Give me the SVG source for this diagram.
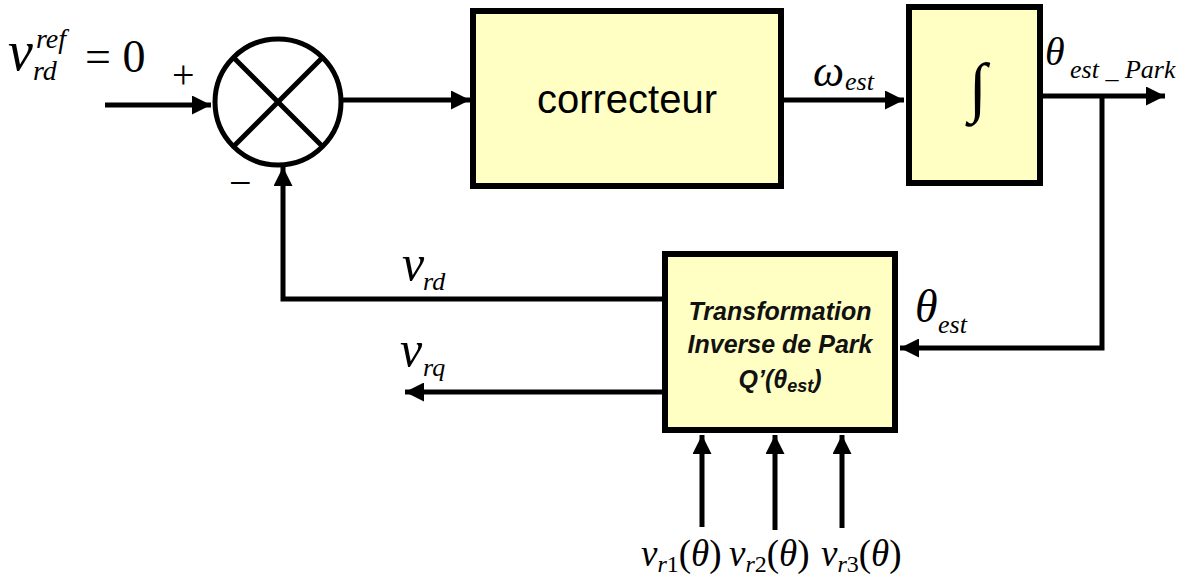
<svg xmlns="http://www.w3.org/2000/svg" width="1187" height="581" viewBox="0 0 1187 581">
<defs>
<marker id="ah" viewBox="0 0 10 10" refX="10" refY="5" markerWidth="4" markerHeight="3.8" markerUnits="strokeWidth" orient="auto">
<path d="M0,0 L10,5 L0,10 z" fill="#000"/>
</marker>
</defs>
<style>
.box{fill:#FFFFC4;stroke:#000;stroke-width:6}
.ln{fill:none;stroke:#000;stroke-width:5}
.m{font-family:"Liberation Serif",serif;font-style:italic;fill:#000}
.r{font-family:"Liberation Serif",serif;font-style:normal;fill:#000}
.b{font-family:"Liberation Sans",sans-serif;font-weight:bold;font-style:italic;font-size:25px;fill:#111;text-anchor:middle}
</style>
<rect width="1187" height="581" fill="#fff"/>
<g id="connectors">
<line class="ln" x1="105" y1="105" x2="211" y2="105" marker-end="url(#ah)"/>
<line class="ln" x1="343" y1="100" x2="470" y2="100" marker-end="url(#ah)"/>
<line class="ln" x1="782" y1="100" x2="904" y2="100" marker-end="url(#ah)"/>
<line class="ln" x1="1043" y1="96" x2="1165" y2="96" marker-end="url(#ah)"/>
<polyline class="ln" points="1102,96 1102,348 900,348" marker-end="url(#ah)"/>
<polyline class="ln" points="662,299 283,299 283,167" marker-end="url(#ah)"/>
<line class="ln" x1="662" y1="392" x2="405" y2="392" marker-end="url(#ah)"/>
<line class="ln" x1="702" y1="527" x2="702" y2="435" marker-end="url(#ah)"/>
<line class="ln" x1="775" y1="530" x2="775" y2="435" marker-end="url(#ah)"/>
<line class="ln" x1="842" y1="528" x2="842" y2="435" marker-end="url(#ah)"/>
</g>
<g id="sum">
<circle cx="278" cy="102" r="63" fill="#fff" stroke="#000" stroke-width="5"/>
<line class="ln" x1="233" y1="57" x2="323" y2="147"/>
<line class="ln" x1="323" y1="57" x2="233" y2="147"/>
<text class="r" x="172" y="88" font-size="40">+</text>
<text class="r" x="229" y="196" font-size="40">−</text>
</g>
<g id="correcteur">
<rect class="box" x="473" y="11" width="308" height="175"/>
<text x="627" y="113" font-family="Liberation Sans,sans-serif" font-size="40" text-anchor="middle">correcteur</text>
</g>
<g id="integrateur">
<rect class="box" x="909" y="7" width="131" height="176"/>
<text class="m" x="978" y="109" font-size="66" text-anchor="middle">∫</text>
</g>
<g id="park">
<rect class="box" x="665" y="254" width="230" height="176"/>
<text class="b" x="780" y="320">Transformation</text>
<text class="b" x="780" y="353">Inverse de Park</text>
<text class="b" x="780" y="388">Q’(θ<tspan font-size="18" dy="4">est</tspan><tspan dy="-4">)</tspan></text>
</g>
<g id="labels">
<text class="m" x="8" y="70" font-size="56">v</text>
<text class="m" x="36" y="48" font-size="28">ref</text>
<text class="m" x="33" y="80" font-size="28">rd</text>
<text class="r" x="85" y="72" font-size="46">= 0</text>
<text class="m" x="813" y="86" font-size="44">ω</text>
<text class="m" x="845" y="90" font-size="26">est</text>
<text class="m" x="1045" y="65" font-size="40">θ</text>
<text class="m" x="1070" y="78" font-size="26">est _ Park</text>
<text class="m" x="915" y="322" font-size="46">θ</text>
<text class="m" x="938" y="333" font-size="26">est</text>
<text class="m" x="402" y="280" font-size="50">v</text>
<text class="m" x="423" y="290" font-size="26">rd</text>
<text class="m" x="400" y="366" font-size="50">v</text>
<text class="m" x="423" y="376" font-size="26">rq</text>
<text class="m" x="641" y="566" font-size="37">v<tspan font-size="24" dy="6">r</tspan><tspan class="r" font-size="24">1</tspan><tspan class="r" font-size="37" dy="-6">(</tspan>θ<tspan class="r">)</tspan></text>
<text class="m" x="729" y="566" font-size="37">v<tspan font-size="24" dy="6">r</tspan><tspan class="r" font-size="24">2</tspan><tspan class="r" font-size="37" dy="-6">(</tspan>θ<tspan class="r">)</tspan></text>
<text class="m" x="821" y="566" font-size="37">v<tspan font-size="24" dy="6">r</tspan><tspan class="r" font-size="24">3</tspan><tspan class="r" font-size="37" dy="-6">(</tspan>θ<tspan class="r">)</tspan></text>
</g>
</svg>
